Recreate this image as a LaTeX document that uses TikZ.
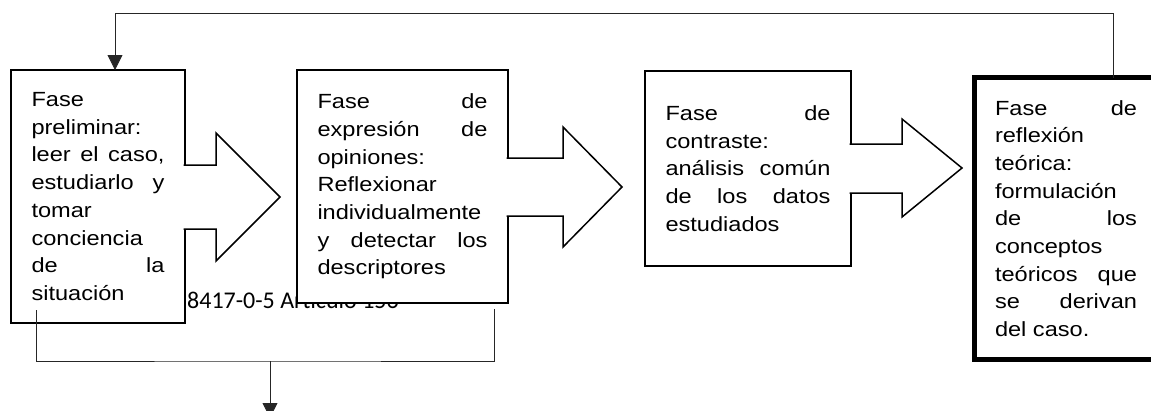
\documentclass[tikz,border=0pt]{standalone}
\usepackage{fontspec}
\newfontfamily\fasefont{Liberation Sans}[FakeStretch=1.15]
\newfontfamily\piefont{Carlito}
\usetikzlibrary{arrows.meta}

\begin{document}
\begin{tikzpicture}[x=1pt, y=-1pt,
        fase/.style={draw, line width=1.5pt, fill=white, outer sep=0pt, inner xsep=20.5pt,
            anchor=north west, align=justify, font=\fasefont\fontsize{20.5}{27.7}\selectfont},
        bloque/.style={draw, line width=1.5pt, fill=white, line join=miter},
        conn/.style={line width=0.8pt, black!85}]
    \useasboundingbox (0,0) rectangle (1151,410);
    \clip (0,0) rectangle (1151,410);
    % pie de pagina que queda debajo de las cajas
    \node[anchor=base west, inner sep=0pt, font=\piefont\fontsize{24}{28}\selectfont] (pie) at (187,308) {8417-0-5 Artículo 156};
    % fases
    \node[fase, text width=133pt, minimum height=253pt] (pre) at (11,70) {Fase\\ preliminar:\\ leer\hfill el\hfill caso,\\ estudiarlo\hfill y\\ tomar\\ conciencia\\ de\hfill la\\ situación};
    \node[fase, text width=170pt, minimum height=233pt] (exp) at (297,70) {Fase\hfill de\\ expresión\hfill de\\ opiniones:\\ Reflexionar\\ individualmente\\ y\hfill detectar\hfill los\\ descriptores};
    \node[fase, text width=165pt, minimum height=195pt] (con) at (645,71) {Fase\hfill de\\ contraste:\\ análisis\hfill común\\ de\hfill los\hfill datos\\ estudiados};
    \node[fase, draw=none, text width=142pt, minimum height=282pt] (ref) at (974.5,77.5) {Fase\hfill de\\ reflexión\\ teórica:\\ formulación\\ de\hfill los\\ conceptos\\ teóricos\hfill que\\ se\hfill derivan\\ del caso.};
    % marco grueso de la ultima fase, cortado por el borde derecho
    \draw[line width=4.5pt, line join=miter] (ref.north -| 1151,0) -- (ref.north west) -- (ref.south west) -- (ref.south -| 1151,0);
    % flechas gruesas entre fases
    \draw[bloque] ([xshift=-1.5pt]pre.east |- 0,165) -- (216,165) -- (216,133) -- (280,197) -- (216,261) -- (216,229) -- ([xshift=-1.5pt]pre.east |- 0,229);
    \draw[bloque] ([xshift=-1.5pt]exp.east |- 0,158) -- (563,158) -- (563,127) -- (622,187) -- (563,247) -- (563,216) -- ([xshift=-1.5pt]exp.east |- 0,216);
    \draw[bloque] ([xshift=-1.5pt]con.east |- 0,144) -- (902,144) -- (902,119) -- (962,168) -- (902,217) -- (902,193) -- ([xshift=-1.5pt]con.east |- 0,193);
    % retorno y salida
    \draw[conn, -{Triangle[length=15pt, width=15pt]}] ([xshift=138.5pt]ref.north west) -- ++(0,-64.5) -| ([xshift=104pt]pre.north west);
    \coordinate (desde) at ([shift={(25,-13)}]pre.south west);
    \coordinate (hasta) at ([shift={(-14,6)}]exp.south east);
    \coordinate (junta) at (270,361);
    \coordinate (salida) at (270,418);
    \draw[conn] (desde) |- (junta) -| (hasta);
    \draw[conn, -{Triangle[length=15pt, width=15pt]}] (junta) -- (salida);
\end{tikzpicture}
\end{document}
